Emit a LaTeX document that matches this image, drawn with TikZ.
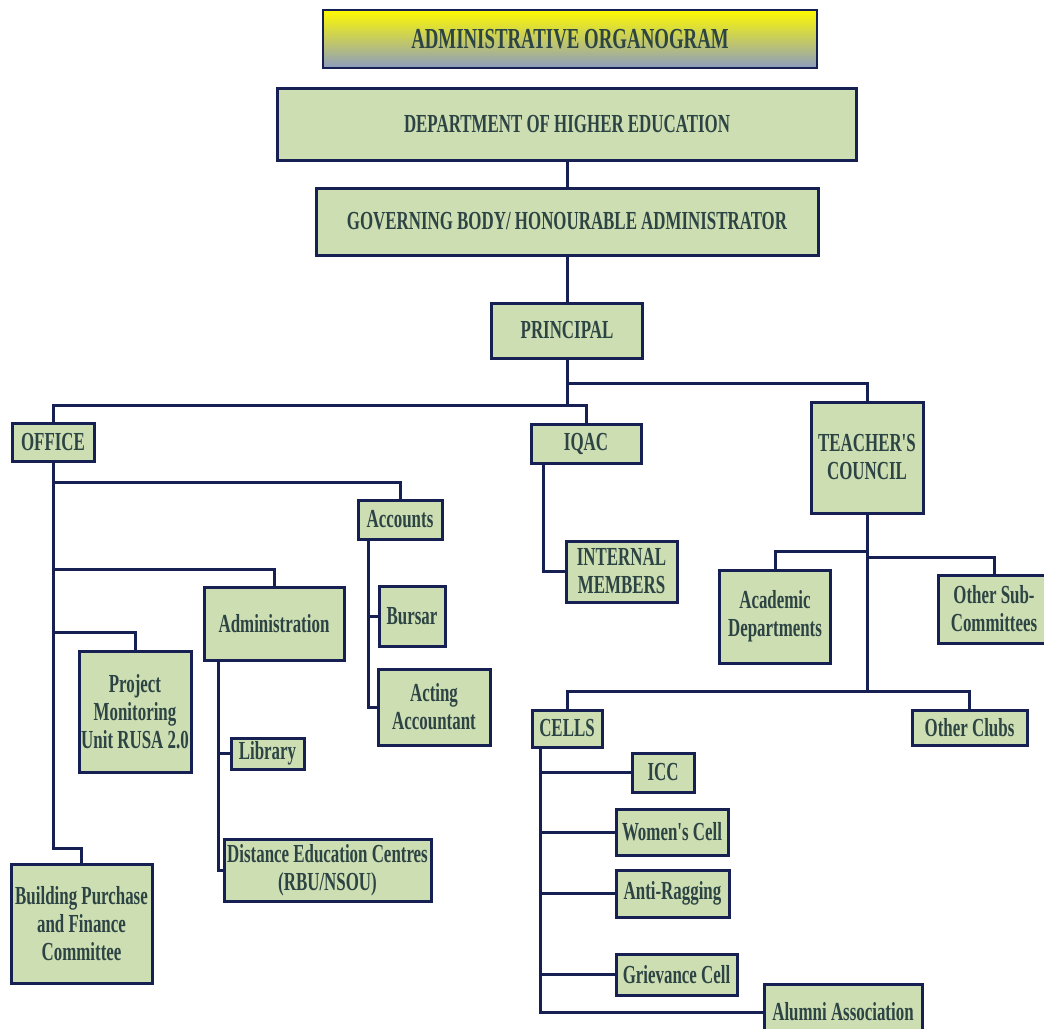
\documentclass[tikz,border=0pt]{standalone}
\usepackage{fontspec}
\newfontfamily\orgfont{Liberation Serif}[FakeStretch=0.65]
\usetikzlibrary{positioning}

\definecolor{boxfill}{RGB}{205,222,178}
\definecolor{boxline}{RGB}{22,32,82}
\definecolor{boxtext}{RGB}{45,68,68}
\definecolor{titletop}{RGB}{255,250,0}
\definecolor{titlemid}{RGB}{214,220,214}
\definecolor{titlebot}{RGB}{140,156,192}

\begin{document}
\begin{tikzpicture}[x=1pt, y=-1pt,
    unit/.style={draw=boxline, line width=3pt, fill=boxfill, text=boxtext, align=center,
        inner sep=0pt, font=\orgfont\bfseries\fontsize{26}{28}\selectfont},
    dims/.style 2 args={minimum width=#1pt, minimum height=#2pt},
    link/.style={draw=boxline, line width=3pt}]

    \useasboundingbox (0,0) rectangle (1044,1028);

    % DRAW TITLE
    \node[draw=boxline, line width=1.5pt, top color=titletop, middle color=titlemid, bottom color=titlebot,
        dims={494}{58}, text=boxtext, font=\orgfont\bfseries\fontsize{29}{31}\selectfont] (title) at (570,39) {ADMINISTRATIVE ORGANOGRAM};

    % DRAW TOP OF THE TREE
    \node[unit, dims={579}{72}] (dhe) at (567,124) {DEPARTMENT OF HIGHER EDUCATION};
    \node[unit, dims={502}{67}] (gov) at (567,221.5) {GOVERNING BODY/ HONOURABLE ADMINISTRATOR};
    \node[unit, dims={151}{55}] (principal) at (567,330.5) {PRINCIPAL};

    % DRAW OFFICE SIDE
    \node[unit, dims={82}{38}] (office) at (53,442) {OFFICE};
    \node[unit, dims={84}{39}] (accounts) at (400,519.5) {Accounts};
    \node[unit, dims={140}{73}] (admin) at (274,623.5) {Administration};
    \node[unit, dims={112}{121}] (rusa) at (135,711.5) {Project\\Monitoring\\Unit RUSA 2.0};
    \node[unit, dims={141}{119}] (building) at (81.5,923.5) {Building Purchase\\and Finance\\Committee};
    \node[unit, dims={73}{31}] (library) at (267.5,753.5) {Library};
    \node[unit, dims={207}{62}] (distance) at (327.5,870) {Distance Education Centres\\(RBU/NSOU)};
    \node[unit, dims={66}{60}] (bursar) at (412,616) {Bursar};
    \node[unit, dims={112}{76}] (acting) at (434,707) {Acting\\Accountant};

    % DRAW IQAC AND COUNCIL SIDE
    \node[unit, dims={110}{39}] (iqac) at (586,443.5) {IQAC};
    \node[unit, dims={111}{61}] (internal) at (621.5,571.5) {INTERNAL\\MEMBERS};
    \node[unit, dims={112}{111}] (council) at (867,457.5) {TEACHER'S\\COUNCIL};
    \node[unit, dims={111}{93}] (academic) at (775,616.5) {Academic\\Departments};
    \node[unit, dims={112}{68}] (othersub) at (994,609) {Other Sub-\\Committees};
    \node[unit, dims={70}{37}] (cells) at (567,728.5) {CELLS};
    \node[unit, dims={115}{35}] (clubs) at (969.5,727.5) {Other Clubs};
    \node[unit, dims={62}{39}] (icc) at (663,772.5) {ICC};
    \node[unit, dims={112}{46}] (women) at (672,832) {Women's Cell};
    \node[unit, dims={113}{47}] (antirag) at (672.5,893.5) {Anti-Ragging};
    \node[unit, dims={121}{41}] (grievance) at (676.5,974.5) {Grievance Cell};
    \node[unit, dims={158}{56}] (alumni) at (843,1012) {Alumni Association};

    % BUS POINTS
    \coordinate (topbus) at (567,383);
    \coordinate (midbus) at (567,405);
    \coordinate (acctbus) at (53,482);
    \coordinate (adminbus) at (53,569);
    \coordinate (rusabus) at (53,632);
    \coordinate (bldgbus) at (53,848);
    \coordinate (admtrunk) at (218,0);
    \coordinate (acctrunk) at (368,0);
    \coordinate (iqactrunk) at (543,0);
    \coordinate (deptbus) at (867,551);
    \coordinate (subbus) at (867,557);
    \coordinate (clubbus) at (867,691);
    \coordinate (celltrunk) at (540,0);

    % DRAW CONNECTORS
    \draw[link] (dhe) -- (gov);
    \draw[link] (gov) -- (principal);
    \draw[link] (principal) -- (topbus) -| (council);
    \draw[link] (topbus) -- (midbus) -| (office);
    \draw[link] (midbus) -| (iqac);

    \draw[link] (office) -- (bldgbus) -| (building);
    \draw[link] (acctbus) -| (accounts);
    \draw[link] (adminbus) -| (admin);
    \draw[link] (rusabus) -| (rusa);
    \draw[link] (admin.south -| admtrunk) |- (distance);
    \draw[link] (library) -- (library -| admtrunk);
    \draw[link] (accounts.south -| acctrunk) |- (acting);
    \draw[link] (bursar) -- (bursar -| acctrunk);

    \draw[link] (iqac.south -| iqactrunk) |- (internal);
    \draw[link] (council) -- (clubbus);
    \draw[link] (deptbus) -| (academic);
    \draw[link] (subbus) -| (othersub);
    \draw[link] (cells) |- (clubbus) -| (clubs);
    \draw[link] (cells.south -| celltrunk) |- (alumni);
    \foreach \c in {icc,women,antirag,grievance}
        \draw[link] (\c) -- (\c -| celltrunk);

\end{tikzpicture}
\end{document}
